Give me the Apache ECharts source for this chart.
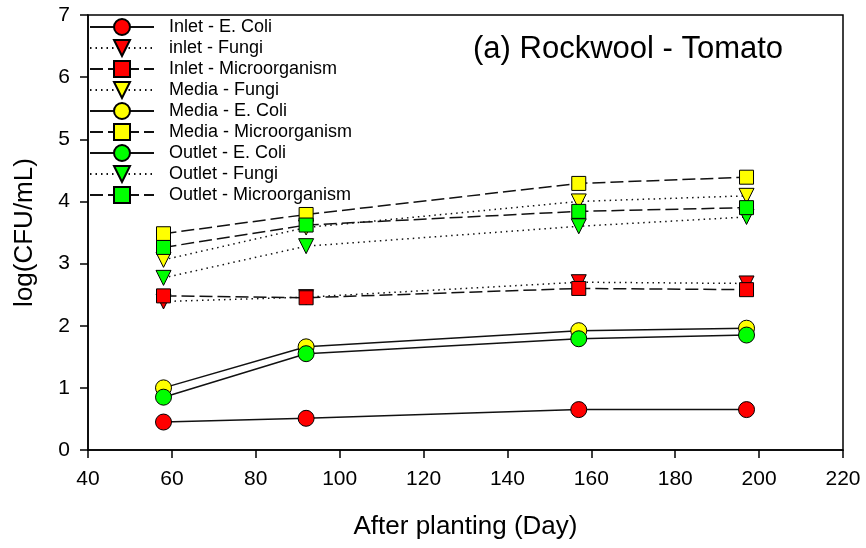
<!DOCTYPE html>
<html>
<head>
<meta charset="utf-8">
<script src="https://cdn.jsdelivr.net/npm/echarts@6/dist/echarts.min.js"></script>
<style>
  html, body { margin: 0; padding: 0; background: #fff; }
  #chart { width: 866px; height: 548px; }
</style>
</head>
<body>
<div id="chart"></div>
<script>
// days after planting
var days = [58, 92, 157, 197];

// log(CFU/mL)
var inletEColi = [0.45, 0.51, 0.65, 0.65];
var inletFungi = [2.39, 2.46, 2.70, 2.68];
var inletMicro = [2.48, 2.45, 2.60, 2.58];
var mediaFungi = [3.06, 3.58, 4.00, 4.09];
var mediaEColi = [1.00, 1.66, 1.92, 1.96];
var mediaMicro = [3.48, 3.79, 4.29, 4.39];
var outletEColi = [0.85, 1.55, 1.79, 1.85];
var outletFungi = [2.77, 3.28, 3.60, 3.75];
var outletMicro = [3.26, 3.62, 3.84, 3.90];

var xTicks = [40, 60, 80, 100, 120, 140, 160, 180, 200, 220];
var yTicks = [0, 1, 2, 3, 4, 5, 6, 7];

var RED = '#ff0000', YELLOW = '#ffff00', GREEN = '#00ff00';
var FONT = '"Liberation Sans", Arial, sans-serif';

// kind -> marker + line style
var kinds = {
    ecoli: { symbol: 'circle', size: 16, rotate: 0, line: 'solid' },
    fungi: { symbol: 'triangle', size: 15, rotate: 180, line: [1.5, 4] },
    micro: { symbol: 'rect', size: 14, rotate: 0, line: [13, 5] }
};

function makeSeries(name, values, color, kind) {
    var k = kinds[kind];
    return {
        name: name,
        type: 'line',
        data: days.map(function (d, i) { return [d, values[i]]; }),
        symbol: k.symbol,
        symbolSize: k.size,
        symbolRotate: k.rotate,
        showAllSymbol: true,
        lineStyle: { color: '#111', width: 1.5, type: k.line },
        itemStyle: { color: color, borderColor: '#000', borderWidth: 1, opacity: 1 },
        emphasis: { disabled: true },
        animation: false
    };
}

var series = [
    makeSeries('Inlet - E. Coli', inletEColi, RED, 'ecoli'),
    makeSeries('inlet - Fungi', inletFungi, RED, 'fungi'),
    makeSeries('Inlet - Microorganism', inletMicro, RED, 'micro'),
    makeSeries('Media - Fungi', mediaFungi, YELLOW, 'fungi'),
    makeSeries('Media - E. Coli', mediaEColi, YELLOW, 'ecoli'),
    makeSeries('Media - Microorganism', mediaMicro, YELLOW, 'micro'),
    makeSeries('Outlet - E. Coli', outletEColi, GREEN, 'ecoli'),
    makeSeries('Outlet - Fungi', outletFungi, GREEN, 'fungi'),
    makeSeries('Outlet - Microorganism', outletMicro, GREEN, 'micro')
];

var chart = echarts.init(document.getElementById('chart'));

var option = {
    backgroundColor: '#fff',
    animation: false,
    title: {
        text: '(a) Rockwool - Tomato',
        left: 473,
        top: 34,
        padding: 0,
        textStyle: { fontFamily: FONT, fontSize: 31, fontWeight: 'normal', color: '#000' }
    },
    legend: {
        orient: 'vertical',
        left: 89,
        top: 18,
        padding: 0,
        itemGap: 3,
        itemWidth: 64,
        itemHeight: 20,
        selectedMode: false,
        data: series.map(function (s) { return s.name; }),
        textStyle: { fontFamily: FONT, fontSize: 18, color: '#000', padding: [0, 0, 0, 10] }
    },
    grid: {
        left: 88,
        right: 23,
        top: 15,
        bottom: 98,
        show: true,
        borderColor: '#000',
        borderWidth: 1.5,
        backgroundColor: 'transparent'
    },
    xAxis: {
        type: 'value',
        min: xTicks[0],
        max: xTicks[xTicks.length - 1],
        interval: 20,
        name: 'After planting (Day)',
        nameLocation: 'middle',
        nameGap: 64,
        nameTextStyle: { fontFamily: FONT, fontSize: 26, color: '#000' },
        axisLine: { show: true, onZero: false, lineStyle: { color: '#000', width: 1.5 } },
        axisTick: { show: true, inside: false, length: 8, lineStyle: { color: '#000', width: 1.5 } },
        axisLabel: { margin: 19, fontFamily: FONT, fontSize: 21, color: '#000' },
        splitLine: { show: false }
    },
    yAxis: {
        type: 'value',
        min: yTicks[0],
        max: yTicks[yTicks.length - 1],
        interval: 1,
        name: 'log(CFU/mL)',
        nameLocation: 'middle',
        nameGap: 50,
        nameTextStyle: { fontFamily: FONT, fontSize: 26, color: '#000' },
        axisLine: { show: true, onZero: false, lineStyle: { color: '#000', width: 1.5 } },
        axisTick: { show: true, inside: false, length: 8, lineStyle: { color: '#000', width: 1.5 } },
        axisLabel: { margin: 18, fontFamily: FONT, fontSize: 21, color: '#000' },
        splitLine: { show: false }
    },
    series: series
};

chart.setOption(option);
</script>
</body>
</html>
